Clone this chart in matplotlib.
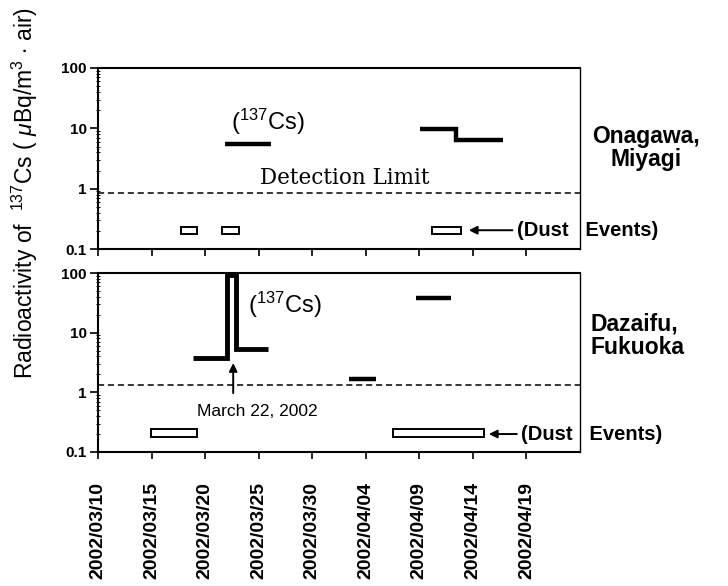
import numpy as np
import pandas as pd
import matplotlib
matplotlib.use("Agg")
import matplotlib.pyplot as plt
import matplotlib.dates as mdates
from matplotlib.ticker import LogLocator, FixedLocator, NullFormatter

plt.rcParams['font.family'] = ['Liberation Sans', 'DejaVu Sans']
plt.rcParams['mathtext.fontset'] = 'custom'
plt.rcParams['mathtext.rm'] = 'Liberation Sans'
plt.rcParams['mathtext.it'] = 'Liberation Sans:italic'
plt.rcParams['mathtext.bf'] = 'Liberation Sans:bold'

# Onagawa, Miyagi: 137Cs step values (edges -> values)
ona_edges_a = ['2002-03-21 20:00', '2002-03-26 04:00']
ona_vals_a = [5.4]
ona_edges_b = ['2002-04-09 02:00', '2002-04-12 10:00', '2002-04-16 20:00']
ona_vals_b = [9.8, 6.3]
ona_limit = 0.85
ona_dust_start = ['2002-03-17 17:00', '2002-03-21 14:00', '2002-04-10 05:00']
ona_dust_end = ['2002-03-19 07:00', '2002-03-23 05:00', '2002-04-12 22:00']

# Dazaifu, Fukuoka
daz_edges_a = ['2002-03-18 20:00', '2002-03-22 00:00', '2002-03-22 21:00', '2002-03-25 22:00']
daz_vals_a = [3.7, 92, 5.4]
daz_edges_b = ['2002-04-02 10:00', '2002-04-05 00:00']
daz_vals_b = [1.65]
daz_edges_c = ['2002-04-08 17:00', '2002-04-12 00:00']
daz_vals_c = [38]
daz_limit = 1.35
daz_dust_start = ['2002-03-14 22:00', '2002-04-06 14:00']
daz_dust_end = ['2002-03-19 07:00', '2002-04-15 00:00']

tick_dates = ['2002-03-10', '2002-03-15', '2002-03-20', '2002-03-25', '2002-03-30',
              '2002-04-04', '2002-04-09', '2002-04-14', '2002-04-19']
tick_labels = ['2002/03/10', '2002/03/15', '2002/03/20', '2002/03/25', '2002/03/30',
               '2002/04/04', '2002/04/09', '2002/04/14', '2002/04/19']
y_ticks = [0.1, 1, 10, 100]
y_ticklabels = ['0.1', '1', '10', '100']


def dn(values):
    return mdates.date2num(pd.to_datetime(values))


x_min, x_max = dn(['2002-03-10', '2002-04-24'])

fig = plt.figure(figsize=(7.28, 5.86), dpi=100)
ax1 = fig.add_axes([0.1346, 0.575, 0.662, 0.309])
ax2 = fig.add_axes([0.1346, 0.2287, 0.662, 0.3053])


def style_axis(ax, show_labels):
    ax.set_yscale('log')
    ax.set_ylim(0.1, 100)
    ax.set_xlim(x_min, x_max)
    ax.yaxis.set_major_locator(FixedLocator(y_ticks))
    ax.set_yticklabels(y_ticklabels, fontsize=11, fontweight='bold')
    ax.yaxis.set_minor_locator(LogLocator(base=10, subs=np.arange(2, 10)))
    ax.yaxis.set_minor_formatter(NullFormatter())
    ax.tick_params(axis='y', which='major', direction='out', length=6, width=1.2, pad=2)
    ax.tick_params(axis='y', which='minor', direction='inout', length=3, width=0.7)
    ax.set_xticks(dn(tick_dates))
    if show_labels:
        ax.set_xticklabels(tick_labels, rotation=90, fontsize=14, fontweight='bold')
    else:
        ax.set_xticklabels([])
    ax.tick_params(axis='x', direction='out', length=5, width=1.2, pad=16.5)
    for side in ['left', 'bottom', 'top']:
        ax.spines[side].set_linewidth(1.5)
    ax.spines['right'].set_linewidth(1.0)


def draw_dust(ax, starts, ends, lo, hi):
    s = dn(starts)
    e = dn(ends)
    ax.bar(s, hi - lo, width=e - s, bottom=lo, align='edge', fill=False,
           edgecolor='black', linewidth=1.4)


style_axis(ax1, False)
style_axis(ax2, True)

# top panel
ax1.stairs(ona_vals_a, dn(ona_edges_a), baseline=None, color='black', linewidth=3.2)
ax1.stairs(ona_vals_b, dn(ona_edges_b), baseline=None, color='black', linewidth=3.2,
           joinstyle='miter')
ax1.axhline(ona_limit, color='black', linestyle=(0, (4, 2.5)), linewidth=1.1)
draw_dust(ax1, ona_dust_start, ona_dust_end, 0.18, 0.232)
ax1.text(dn(['2002-03-22 09:00'])[0], 13, r'($^{137}$Cs)', fontsize=17, va='center', ha='left')
ax1.text(dn(['2002-03-25 04:00'])[0], 1.5, 'Detection Limit', family='DejaVu Serif',
         fontsize=15.5, va='center', ha='left')
ax1.annotate('(Dust   Events)', xy=(dn(['2002-04-13 15:00'])[0], 0.205),
             xytext=(dn(['2002-04-18 02:00'])[0], 0.205), fontsize=14.5, fontweight='bold',
             ha='left', va='center', annotation_clip=False,
             arrowprops=dict(arrowstyle='-|>', color='black', linewidth=1.4,
                             mutation_scale=12, shrinkA=1, shrinkB=0))

# bottom panel
ax2.stairs(daz_vals_a, dn(daz_edges_a), baseline=None, color='black', linewidth=3.5,
           joinstyle='miter')
ax2.stairs(daz_vals_b, dn(daz_edges_b), baseline=None, color='black', linewidth=3.2)
ax2.stairs(daz_vals_c, dn(daz_edges_c), baseline=None, color='black', linewidth=3.2)
ax2.axhline(daz_limit, color='black', linestyle=(0, (4, 2.5)), linewidth=1.1)
draw_dust(ax2, daz_dust_start, daz_dust_end, 0.18, 0.245)
ax2.text(dn(['2002-03-24 00:00'])[0], 29, r'($^{137}$Cs)', fontsize=17, va='center', ha='left')
x_arrow = dn(['2002-03-22 15:00'])[0]
ax2.annotate('', xy=(x_arrow, 3.1), xytext=(x_arrow, 0.97),
             arrowprops=dict(arrowstyle='-|>', color='black', linewidth=1.4,
                             mutation_scale=12, shrinkA=0, shrinkB=0))
ax2.text(dn(['2002-03-24 20:00'])[0], 0.47, 'March 22, 2002', fontsize=12.5,
         ha='center', va='center')
ax2.annotate('(Dust   Events)', xy=(dn(['2002-04-15 12:00'])[0], 0.2),
             xytext=(dn(['2002-04-18 12:00'])[0], 0.2), fontsize=14.5, fontweight='bold',
             ha='left', va='center', annotation_clip=False,
             arrowprops=dict(arrowstyle='-|>', color='black', linewidth=1.4,
                             mutation_scale=12, shrinkA=1, shrinkB=0))

# site names
fig.text(646 / 728, 1 - 148 / 586, 'Onagawa,\nMiyagi', fontsize=16.5, fontweight='bold',
         ha='center', va='center', linespacing=1.05, multialignment='center')
fig.text(591 / 728, 1 - 336 / 586, 'Dazaifu,\nFukuoka', fontsize=16.5, fontweight='bold',
         ha='left', va='center', linespacing=1.05, multialignment='left')

fig.text(25 / 728, 1 - 193 / 586,
         r'Radioactivity of  $^{137}$Cs ( $\mu$Bq/m$^3$ $\cdot$ air)',
         rotation=90, fontsize=16.5, ha='center', va='center')

fig.savefig('out.png', dpi=100)
